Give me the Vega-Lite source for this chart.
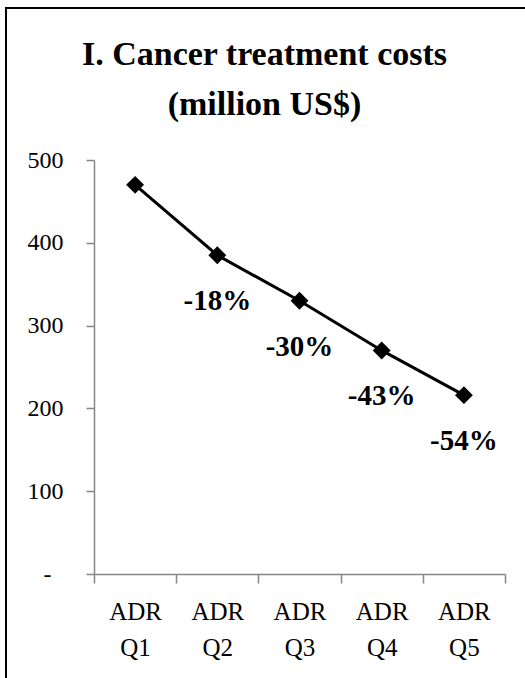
{
  "$schema": "https://vega.github.io/schema/vega-lite/v6.json",
  "width": 525,
  "height": 680,
  "autosize": {"type": "none"},
  "padding": {"left": 6, "top": 8, "right": -6, "bottom": -10},
  "background": "white",
  "title": {
    "text": ["I. Cancer treatment costs", "(million US$)"],
    "font": "Liberation Serif",
    "fontSize": 34,
    "fontWeight": "bold",
    "color": "black",
    "anchor": "middle",
    "frame": "group",
    "offset": -114,
    "lineHeight": 50,
    "dx": -4
  },
  "config": {
    "view": {"stroke": "black", "strokeWidth": 2, "fill": "white"},
    "axis": {
      "grid": false,
      "title": null,
      "domainColor": "#868686",
      "tickColor": "#868686",
      "domainWidth": 1.5,
      "tickWidth": 1.5,
      "labelColor": "black",
      "labelFont": "Liberation Serif"
    }
  },
  "data": {
    "values": [
      {"quintile": "ADR Q1", "cost": 470, "change": ""},
      {"quintile": "ADR Q2", "cost": 385, "change": "-18%"},
      {"quintile": "ADR Q3", "cost": 330, "change": "-30%"},
      {"quintile": "ADR Q4", "cost": 270, "change": "-43%"},
      {"quintile": "ADR Q5", "cost": 216, "change": "-54%"}
    ]
  },
  "encoding": {
    "x": {
      "field": "quintile",
      "type": "ordinal",
      "sort": null,
      "scale": {"type": "band", "range": [88, 499], "paddingInner": 0, "paddingOuter": 0},
      "axis": {
        "offset": -114,
        "tickBand": "extent",
        "tickSize": 9,
        "labelAngle": 0,
        "labelPadding": 16,
        "labelFontSize": 25,
        "labelLineHeight": 36,
        "labelExpr": "split(datum.label, ' ')"
      }
    },
    "y": {
      "field": "cost",
      "type": "quantitative",
      "scale": {"domain": [0, 500], "range": [566, 152]},
      "axis": {
        "offset": -88,
        "values": [0, 100, 200, 300, 400, 500],
        "tickSize": 8,
        "labelPadding": 23,
        "labelFontSize": 24,
        "labelExpr": "datum.value == 0 ? '-\u2002\u200b' : datum.label"
      }
    }
  },
  "layer": [
    {"mark": {"type": "line", "color": "black", "strokeWidth": 3}},
    {"mark": {"type": "point", "shape": "diamond", "filled": true, "color": "black", "size": 320, "opacity": 1}},
    {
      "mark": {
        "type": "text",
        "dy": 46,
        "font": "Liberation Serif",
        "fontSize": 29,
        "fontWeight": "bold",
        "baseline": "middle",
        "color": "black"
      },
      "encoding": {"text": {"field": "change"}}
    }
  ]
}
